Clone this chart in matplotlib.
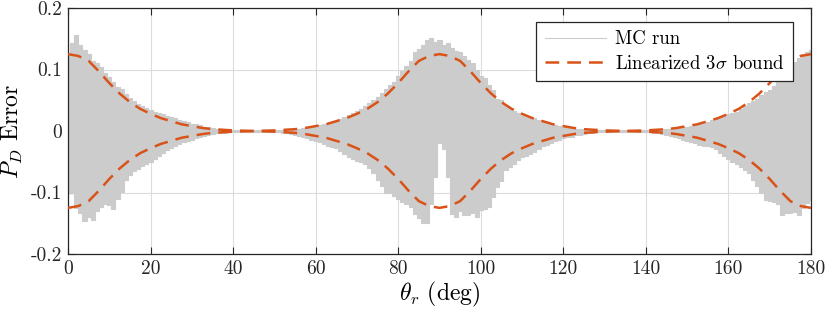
import matplotlib

matplotlib.use("Agg")
import matplotlib.pyplot as plt
import numpy as np

# MC run envelope at 1 deg spacing (0..180)
THETA_MC = np.arange(0, 181, 1)
MC_UPPER = [
    0.122, 0.143, 0.156, 0.140, 0.132, 0.125, 0.114, 0.110, 0.104, 0.095,
    0.088, 0.080, 0.072, 0.068, 0.060, 0.053, 0.049, 0.044, 0.040, 0.037,
    0.034, 0.031, 0.029, 0.027, 0.024, 0.022, 0.021, 0.018, 0.016, 0.014,
    0.012, 0.011, 0.009, 0.007, 0.006, 0.005, 0.004, 0.003, 0.002, 0.002,
    0.0015, 0.001, 0.001, 0.001, 0.001, 0.001, 0.001, 0.001, 0.001, 0.0015,
    0.002, 0.002, 0.002, 0.003, 0.003, 0.004, 0.004, 0.005, 0.006, 0.007,
    0.008, 0.009, 0.011, 0.013, 0.015, 0.017, 0.019, 0.022, 0.026, 0.029,
    0.032, 0.036, 0.040, 0.045, 0.050, 0.055, 0.061, 0.068, 0.075, 0.080,
    0.090, 0.098, 0.105, 0.114, 0.128, 0.134, 0.140, 0.148, 0.151, 0.145,
    0.148, 0.140, 0.143, 0.135, 0.130, 0.128, 0.122, 0.115, 0.110, 0.100,
    0.090, 0.086, 0.075, 0.067, 0.052, 0.050, 0.043, 0.038, 0.033, 0.030,
    0.027, 0.025, 0.023, 0.021, 0.018, 0.016, 0.014, 0.012, 0.010, 0.008,
    0.007, 0.006, 0.005, 0.004, 0.003, 0.003, 0.002, 0.002, 0.0015, 0.001,
    0.001, 0.001, 0.001, 0.001, 0.001, 0.001, 0.001, 0.001, 0.001, 0.001,
    0.0015, 0.002, 0.002, 0.003, 0.003, 0.004, 0.004, 0.005, 0.005, 0.006,
    0.007, 0.008, 0.009, 0.011, 0.013, 0.015, 0.018, 0.020, 0.022, 0.025,
    0.027, 0.029, 0.031, 0.036, 0.041, 0.045, 0.048, 0.052, 0.058, 0.063,
    0.067, 0.073, 0.080, 0.088, 0.095, 0.105, 0.112, 0.118, 0.125, 0.128,
    0.132,
]
MC_LOWER = [
    -0.100, -0.100, -0.125, -0.134, -0.147, -0.140, -0.145, -0.130, -0.123, -0.118,
    -0.120, -0.126, -0.110, -0.099, -0.080, -0.072, -0.065, -0.061, -0.057, -0.054,
    -0.050, -0.045, -0.040, -0.036, -0.031, -0.027, -0.024, -0.021, -0.018, -0.016,
    -0.014, -0.012, -0.010, -0.008, -0.007, -0.005, -0.004, -0.004, -0.003, -0.002,
    -0.002, -0.0015, -0.0015, -0.001, -0.001, -0.001, -0.001, -0.0015, -0.0015, -0.0015,
    -0.002, -0.002, -0.003, -0.004, -0.005, -0.006, -0.008, -0.010, -0.012, -0.014,
    -0.016, -0.018, -0.021, -0.024, -0.026, -0.028, -0.032, -0.037, -0.042, -0.045,
    -0.048, -0.050, -0.053, -0.060, -0.068, -0.080, -0.090, -0.101, -0.101, -0.105,
    -0.110, -0.115, -0.118, -0.123, -0.135, -0.142, -0.150, -0.150, -0.118, -0.074,
    -0.020, -0.030, -0.074, -0.135, -0.139, -0.130, -0.137, -0.137, -0.134, -0.139,
    -0.128, -0.126, -0.123, -0.107, -0.091, -0.082, -0.063, -0.058, -0.053, -0.047,
    -0.042, -0.040, -0.037, -0.034, -0.029, -0.025, -0.022, -0.020, -0.017, -0.014,
    -0.012, -0.010, -0.009, -0.007, -0.006, -0.005, -0.004, -0.003, -0.002, -0.002,
    -0.0015, -0.0015, -0.0015, -0.001, -0.001, -0.001, -0.001, -0.0015, -0.0015, -0.0015,
    -0.002, -0.002, -0.003, -0.004, -0.005, -0.006, -0.008, -0.010, -0.012, -0.014,
    -0.016, -0.018, -0.020, -0.022, -0.024, -0.025, -0.026, -0.030, -0.035, -0.040,
    -0.045, -0.050, -0.053, -0.058, -0.064, -0.069, -0.080, -0.090, -0.100, -0.112,
    -0.114, -0.116, -0.118, -0.137, -0.134, -0.134, -0.131, -0.136, -0.125, -0.117,
    -0.112,
]

# linearized 3-sigma bound, 2.5 deg spacing
THETA_BOUND = np.arange(0, 180.1, 2.5)
BOUND = [
    0.125, 0.122, 0.114, 0.097, 0.078, 0.061, 0.047, 0.036, 0.028, 0.021,
    0.016, 0.011, 0.008, 0.005, 0.003, 0.002, 0.001, 0.0005, 0.0,
    0.0005, 0.001, 0.002, 0.003, 0.005, 0.008, 0.011, 0.016, 0.021, 0.028,
    0.036, 0.047, 0.061, 0.078, 0.097, 0.114, 0.122, 0.125,
    0.122, 0.114, 0.097, 0.078, 0.061, 0.047, 0.036, 0.028, 0.021, 0.016,
    0.011, 0.008, 0.005, 0.003, 0.002, 0.001, 0.0005, 0.0,
    0.0005, 0.001, 0.002, 0.003, 0.005, 0.008, 0.011, 0.016, 0.021, 0.028,
    0.036, 0.047, 0.061, 0.078, 0.097, 0.114, 0.122, 0.125,
]

X_TICKS = list(range(0, 181, 20))
Y_TICKS = [-0.2, -0.1, 0, 0.1, 0.2]
Y_TICK_LABELS = ["-0.2", "-0.1", "0", "0.1", "0.2"]

MC_COLOR = "#cccccc"
BOUND_COLOR = "#D95319"

plt.rcParams["font.family"] = "cmr10"
plt.rcParams["mathtext.fontset"] = "cm"
plt.rcParams["axes.unicode_minus"] = False

fig = plt.figure(figsize=(8.3, 3.14), dpi=100)
ax = fig.add_axes([0.0819, 0.191, 0.8952, 0.7835])

upper = np.array(MC_UPPER)
lower = np.array(MC_LOWER)
ax.fill_between(THETA_MC, lower, upper, step="mid", color=MC_COLOR, lw=0, zorder=2)
ax.step(THETA_MC, upper, where="mid", color=MC_COLOR, lw=0.8, zorder=2, label="MC run")
ax.step(THETA_MC, lower, where="mid", color=MC_COLOR, lw=0.8, zorder=2)

bound = np.array(BOUND)
ax.plot(THETA_BOUND, bound, color=BOUND_COLOR, lw=1.8, dashes=(5.5, 3.2), zorder=3,
        label=r"Linearized $3\sigma$ bound")
ax.plot(THETA_BOUND, -bound, color=BOUND_COLOR, lw=1.8, dashes=(5.5, 3.2), zorder=3)

ax.set_xlim(0, 180)
ax.set_ylim(-0.2, 0.2)
ax.set_xticks(X_TICKS)
ax.set_xticklabels([str(t) for t in X_TICKS])
ax.set_yticks(Y_TICKS)
ax.set_yticklabels(Y_TICK_LABELS)
ax.tick_params(direction="in", top=True, right=True, length=5, width=0.8,
               labelsize=14, colors="#262626", pad=4)
ax.grid(True, color="#dcdcdc", lw=0.8, zorder=0)
ax.set_axisbelow(True)
for sp in ax.spines.values():
    sp.set_color("#262626")
    sp.set_linewidth(0.9)

ax.set_xlabel(r"$\theta_r$ (deg)", fontsize=17, labelpad=2)
ax.set_ylabel(r"$P_D$ Error", fontsize=17, labelpad=4)

leg = ax.legend(loc="upper right", bbox_to_anchor=(0.9758, 0.943), fontsize=13.5,
                frameon=True, fancybox=False, framealpha=1, edgecolor="#262626",
                borderpad=0.45, handlelength=3.3, handletextpad=0.45, labelspacing=0.35,
                borderaxespad=0)
leg.get_frame().set_linewidth(0.9)

fig.savefig("out.png", dpi=100)
